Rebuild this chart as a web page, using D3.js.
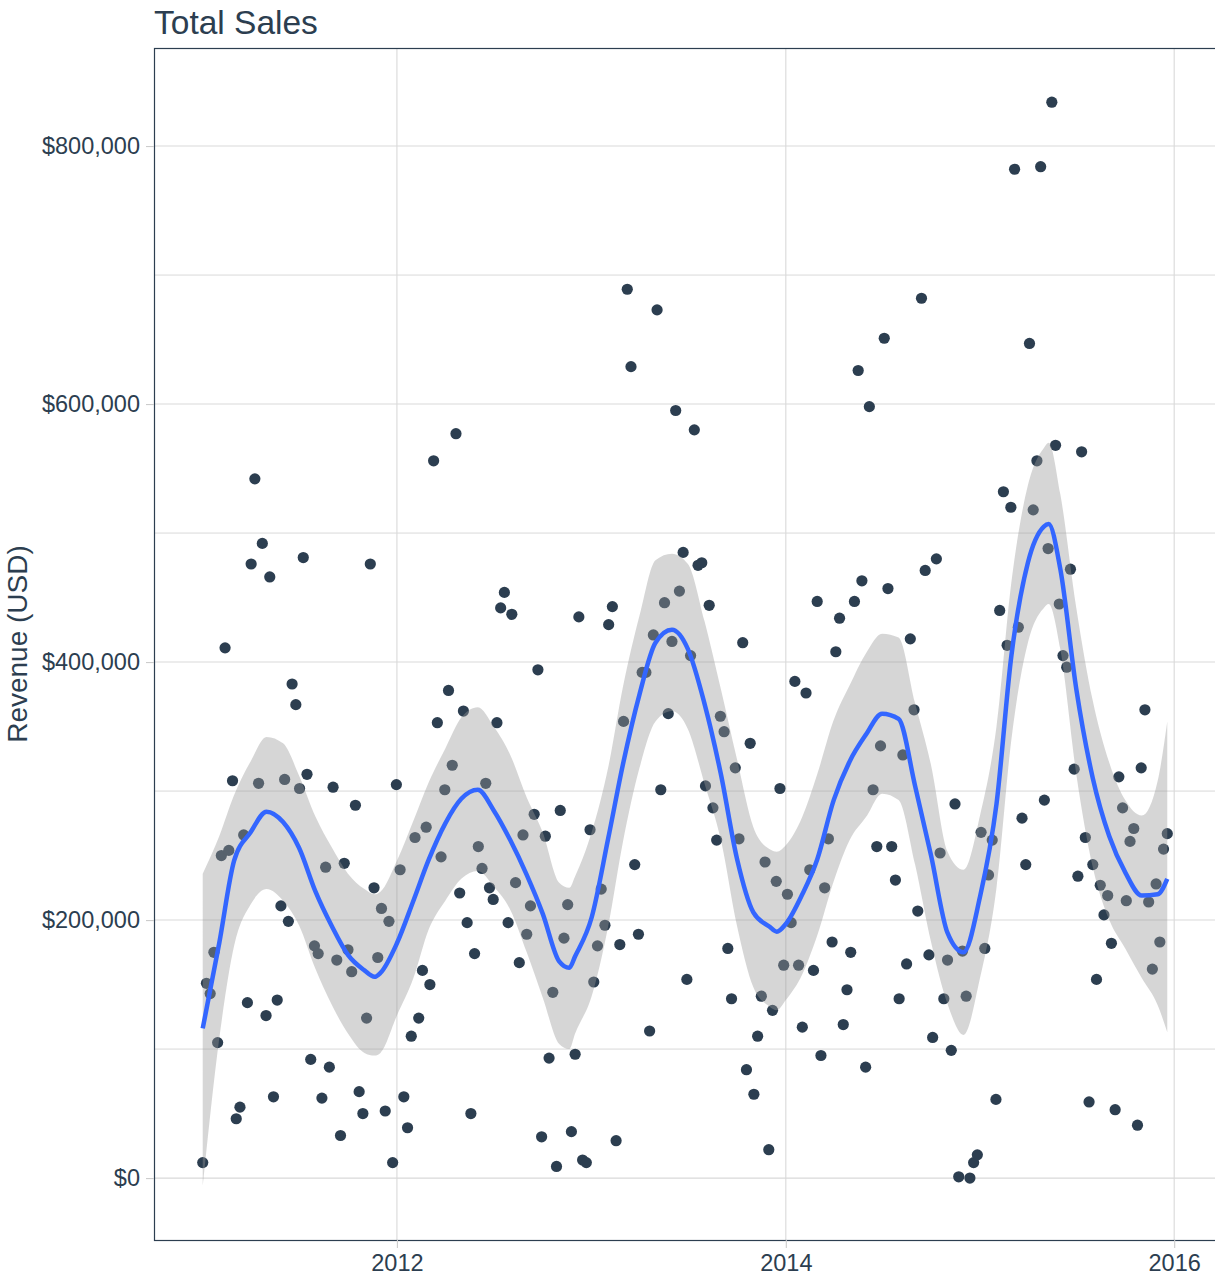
<!DOCTYPE html>
<html>
<head>
<meta charset="utf-8">
<script src="https://cdn.jsdelivr.net/npm/d3@7"></script>
<style>
  html, body { margin: 0; padding: 0; background: #ffffff; }
  svg { display: block; font-family: "Liberation Sans", Arial, Helvetica, sans-serif; }
</style>
</head>
<body>
<svg id="chart" width="1215" height="1283"></svg>
<script>
// ---------------- DATA ----------------
const chartTitle = "Total Sales";
const yTitle = "Revenue (USD)";
const firstWeek = "2011-01-01";          // weekly observations start
// weekly total sales, thousands of USD
const weeklySales = [
  12,151,143,175,105,250,411,254,308,46,55,266,136,476,542,306,492,126,466,63,138,211,309,199,383,367,302,481,313,92,180,174,62,241,86,303,169,33,244,177,160,289,67,50,124,476,225,171,209,52,199,12,305,
  239,63,39,110,264,124,161,272,150,556,353,249,301,378,320,577,221,362,198,50,174,257,240,306,225,216,353,442,454,198,437,229,167,266,189,211,282,394,32,265,93,144,9,285,186,212,36,96,435,14,12,270,152,180,224,196,429,443,
  29,181,354,689,629,243,189,392,392,114,421,673,301,446,360,416,595,455,485,154,405,580,475,477,304,444,287,262,358,346,178,139,318,263,415,84,337,65,110,141,245,22,130,230,302,165,220,198,385,165,117,376,239,
  161,447,95,225,263,183,408,434,119,146,175,447,626,463,86,598,301,257,335,651,457,257,231,139,328,166,418,363,207,682,471,173,109,480,252,139,169,99,290,1,176,141,0,12,18,268,178,235,262,61,440,532,413,520,
  782,427,279,243,647,518,556,784,293,488,834,568,445,405,396,472,317,234,563,264,59,243,154,227,204,219,182,53,311,287,215,261,271,41,318,363,214,162,228,183,255,267
];
// loess smooth (thousands of USD)
const smoothDates = [
  "2011-01-01","2011-02-01","2011-03-01","2011-04-01","2011-05-01","2011-06-01","2011-07-01","2011-08-01","2011-09-01","2011-10-01","2011-11-01","2011-11-20","2011-12-01",
  "2012-01-01","2012-02-01","2012-03-01","2012-04-01","2012-05-01","2012-06-01","2012-07-01","2012-08-01","2012-09-01","2012-10-01","2012-11-01","2012-11-20","2012-12-01",
  "2013-01-01","2013-02-01","2013-03-01","2013-04-01","2013-05-01","2013-06-01","2013-07-01","2013-08-01","2013-09-01","2013-10-01","2013-11-01","2013-12-01","2013-12-15",
  "2014-01-01","2014-02-01","2014-03-01","2014-04-01","2014-05-01","2014-06-01","2014-07-01","2014-08-01","2014-09-01","2014-10-01","2014-11-01","2014-12-01",
  "2015-01-01","2015-02-01","2015-03-01","2015-04-01","2015-05-01","2015-05-10","2015-06-01","2015-07-01","2015-08-01","2015-09-01","2015-10-01","2015-11-01","2015-12-01","2015-12-19"
];
const smoothFit = [
  116,182,246,268,284,276,256,222,195,173,161,156,159,
  182,215,247,275,294,301,285,262,235,205,168,163,172,
  202,263,321,375,415,425,410,368,313,248,206,195,191,
  197,220,247,293,323,344,360,356,304,250,190,175,
  218,290,405,477,505,507,472,379,310,265,237,219,220,232
];
const smoothLow = [
  -6,108,180,212,224,215,196,162,134,112,97,95,97,
  126,155,193,215,232,238,226,208,175,140,104,100,112,
  141,195,261,318,354,362,348,306,262,196,148,133,130,
  138,158,188,230,262,280,298,293,243,183,135,111,
  155,225,340,415,442,445,410,313,241,200,178,155,134,113
];
const smoothHigh = [
  236,265,297,323,342,337,312,280,256,236,224,220,222,
  246,277,307,333,357,365,350,328,295,268,229,225,234,
  268,318,381,436,479,484,476,432,379,325,272,255,253,
  258,280,313,355,382,407,422,419,368,320,253,239,
  281,350,462,537,566,570,530,442,370,322,293,281,308,354
];
const yMajorTicks = [0, 200000, 400000, 600000, 800000];
const yMinorTicks = [100000, 300000, 500000, 700000];
const xTickYears = ["2012-01-01", "2014-01-01", "2016-01-01"];

// ---------------- CHART ----------------
const ink = "#2c3e50";
const gridCol = "#d9d9d9";
const parse = d3.timeParse("%Y-%m-%d");
const start = parse(firstWeek);
const points = weeklySales.map((v, i) => ({ date: d3.timeDay.offset(start, 7 * i), value: v * 1000 }));
const smooth = smoothDates.map((d, i) => ({
  date: parse(d), fit: smoothFit[i] * 1000, low: smoothLow[i] * 1000, high: smoothHigh[i] * 1000
}));

const panel = { left: 155, top: 48, right: 1215.5, bottom: 1240 };

const xExt = d3.extent(points, d => d.date);
const xPad = (xExt[1] - xExt[0]) * 0.05;
const x = d3.scaleTime()
  .domain([new Date(+xExt[0] - xPad), new Date(+xExt[1] + xPad)])
  .range([154.5, panel.right]);

const yMin = Math.min(d3.min(points, d => d.value), d3.min(smooth, d => d.low));
const yMax = Math.max(d3.max(points, d => d.value), d3.max(smooth, d => d.high));
const yPad = (yMax - yMin) * 0.05;
const y = d3.scaleLinear().domain([yMin - yPad, yMax + yPad]).range([panel.bottom, panel.top]);

const svg = d3.select("#chart");
svg.append("rect").attr("width", 1215).attr("height", 1283).attr("fill", "#fff");

// grid
const grid = svg.append("g");
grid.selectAll("line.ymin").data(yMinorTicks).join("line")
  .attr("x1", panel.left).attr("x2", panel.right)
  .attr("y1", d => y(d)).attr("y2", d => y(d))
  .attr("stroke", gridCol).attr("stroke-width", 1);
grid.selectAll("line.ymaj").data(yMajorTicks).join("line")
  .attr("x1", panel.left).attr("x2", panel.right)
  .attr("y1", d => y(d)).attr("y2", d => y(d))
  .attr("stroke", gridCol).attr("stroke-width", 1.1);
grid.selectAll("line.xmaj").data(xTickYears.map(parse)).join("line")
  .attr("x1", d => x(d)).attr("x2", d => x(d))
  .attr("y1", panel.top).attr("y2", panel.bottom)
  .attr("stroke", gridCol).attr("stroke-width", 1.1);

// points
svg.append("g").selectAll("circle").data(points).join("circle")
  .attr("cx", d => x(d.date)).attr("cy", d => y(d.value))
  .attr("r", 5.6).attr("fill", ink);

// ribbon
const area = d3.area().curve(d3.curveMonotoneX)
  .x(d => x(d.date)).y0(d => y(d.low)).y1(d => y(d.high));
svg.append("path").datum(smooth).attr("d", area)
  .attr("fill", "#999999").attr("fill-opacity", 0.4);

// smooth line
const line = d3.line().curve(d3.curveMonotoneX).x(d => x(d.date)).y(d => y(d.fit));
svg.append("path").datum(smooth).attr("d", line)
  .attr("fill", "none").attr("stroke", "#3366FF").attr("stroke-width", 4.5)
  .attr("stroke-linejoin", "round");

// panel border
svg.append("rect")
  .attr("x", panel.left - 0.5).attr("y", panel.top + 0.5)
  .attr("width", panel.right - panel.left + 2).attr("height", panel.bottom - panel.top)
  .attr("fill", "none").attr("stroke", ink).attr("stroke-width", 1.2);

// y axis
const yAxis = d3.axisLeft(y).tickValues(yMajorTicks).tickSize(8).tickPadding(6)
  .tickFormat(d => "$" + d3.format(",")(d));
const gy = svg.append("g").attr("transform", `translate(${panel.left - 1},0)`).call(yAxis);
gy.select(".domain").remove();
gy.selectAll(".tick line").attr("stroke", "#cccccc").attr("stroke-width", 1.1);
gy.selectAll(".tick text").attr("fill", ink).attr("font-size", "23.5px")
  .attr("font-family", "Liberation Sans, Arial, sans-serif");

// x axis
const xAxis = d3.axisBottom(x).tickValues(xTickYears.map(parse)).tickSize(8).tickPadding(6)
  .tickFormat(d3.timeFormat("%Y"));
const gx = svg.append("g").attr("transform", `translate(0,${panel.bottom})`).call(xAxis);
gx.select(".domain").remove();
gx.selectAll(".tick line").attr("stroke", "#cccccc").attr("stroke-width", 1.1);
gx.selectAll(".tick text").attr("fill", ink).attr("font-size", "23.5px")
  .attr("font-family", "Liberation Sans, Arial, sans-serif");

// title
svg.append("text").attr("x", panel.left - 1).attr("y", 34)
  .attr("fill", ink).attr("font-size", "33.5px").text(chartTitle);

// y title
svg.append("text")
  .attr("transform", `translate(27,${(panel.top + panel.bottom) / 2}) rotate(-90)`)
  .attr("text-anchor", "middle").attr("fill", ink).attr("font-size", "28px")
  .text(yTitle);
</script>
</body>
</html>
